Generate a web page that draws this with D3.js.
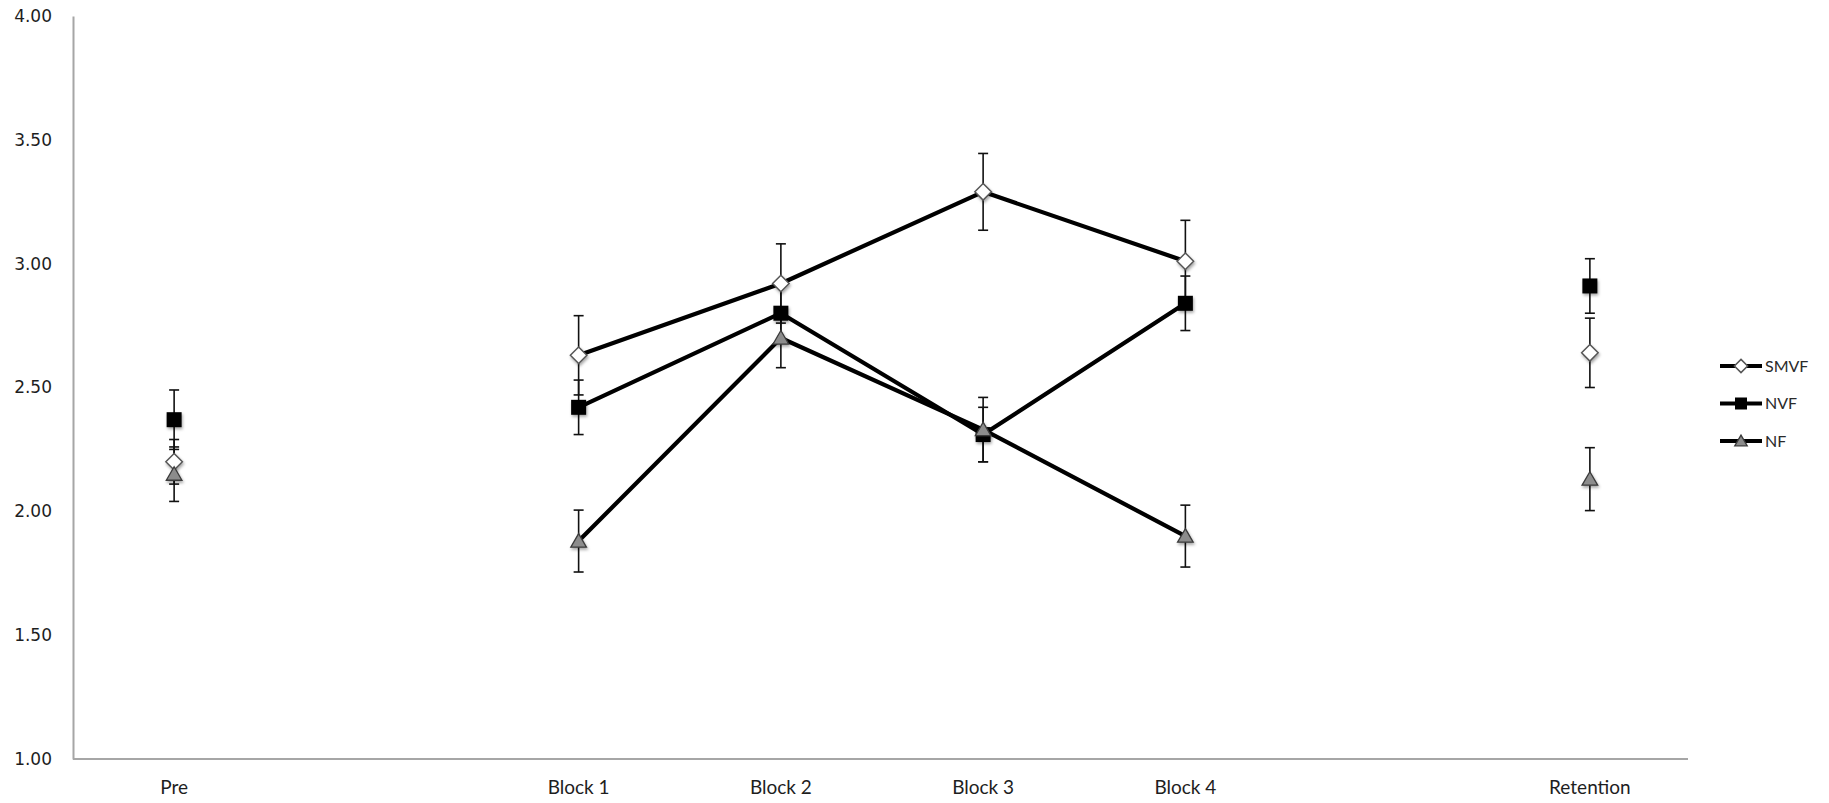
<!DOCTYPE html>
<html>
<head>
<meta charset="utf-8">
<script src="https://cdn.jsdelivr.net/npm/d3@7"></script>
<style>
  html, body { margin: 0; padding: 0; background: #fff; }
  svg { display: block; }
</style>
</head>
<body>
<svg id="chart" width="1829" height="803"></svg>
<script>
// Session labels along the x axis; two unlabelled slots separate Pre and Retention from the blocks
const slots = ["Pre", "gapA", "Block 1", "Block 2", "Block 3", "Block 4", "gapB", "Retention"];
const categories = ["Pre", "Block 1", "Block 2", "Block 3", "Block 4", "Retention"];
const yTicks = [1.0, 1.5, 2.0, 2.5, 3.0, 3.5, 4.0];

// Group means and error-bar half-widths per session
const smvfMean = [2.20, 2.63, 2.92, 3.29, 3.01, 2.64];
const smvfErr  = [0.09, 0.16, 0.16, 0.155, 0.165, 0.14];
const nvfMean  = [2.37, 2.42, 2.80, 2.31, 2.84, 2.91];
const nvfErr   = [0.12, 0.11, 0.11, 0.11, 0.11, 0.11];
const nfMean   = [2.15, 1.88, 2.70, 2.33, 1.90, 2.13];
const nfErr    = [0.11, 0.125, 0.12, 0.13, 0.125, 0.127];

// Sessions joined by a line (the four practice blocks)
const connected = ["Block 1", "Block 2", "Block 3", "Block 4"];

const series = [
  { name: "SMVF", mean: smvfMean, err: smvfErr, shape: "diamond" },
  { name: "NVF",  mean: nvfMean,  err: nvfErr,  shape: "square" },
  { name: "NF",   mean: nfMean,   err: nfErr,   shape: "triangle" }
];

const svg = d3.select("#chart");

const defs = svg.append("defs");
const shadow = defs.append("filter").attr("id", "markShadow")
  .attr("x", "-50%").attr("y", "-50%").attr("width", "200%").attr("height", "200%");
shadow.append("feDropShadow")
  .attr("dx", 1).attr("dy", 2).attr("stdDeviation", 1.6)
  .attr("flood-color", "#000").attr("flood-opacity", 0.35);

const x = d3.scaleBand().domain(slots).range([73, 1691]);
const y = d3.scaleLinear().domain([1, 4]).range([759, 16]);
const cx = c => x(c) + x.bandwidth() / 2;

// Axes
const yAxis = svg.append("g").attr("transform", "translate(73,0)")
  .call(d3.axisLeft(y).tickValues(yTicks).tickSize(0).tickPadding(21).tickFormat(d3.format(".2f")));
yAxis.select(".domain").attr("stroke", "#a6a6a6").attr("stroke-width", 2);
yAxis.selectAll("text")
  .attr("font-family", "'DejaVu Sans', Verdana, sans-serif")
  .attr("font-size", 17).attr("fill", "#1e1e1e");

const xAxis = svg.append("g").attr("transform", "translate(0,759)")
  .call(d3.axisBottom(x).tickValues(categories).tickSize(0).tickPadding(22));
xAxis.select(".domain").attr("stroke", "#a6a6a6").attr("stroke-width", 2)
  .attr("d", "M73,0H1688");
xAxis.selectAll("text")
  .attr("font-family", "Lato, 'Open Sans', sans-serif")
  .attr("font-size", 19).attr("fill", "#1e1e1e");

// Marker shapes
function marker(sel, shape, s) {
  if (shape === "diamond") {
    sel.append("path")
      .attr("d", `M0,${-s * 0.55}L${s * 0.55},0L0,${s * 0.55}L${-s * 0.55},0Z`)
      .attr("fill", "#fff").attr("stroke", "#555").attr("stroke-width", 1.5);
  } else if (shape === "square") {
    sel.append("rect")
      .attr("x", -s / 2).attr("y", -s / 2).attr("width", s).attr("height", s)
      .attr("fill", "#000");
  } else {
    const h = s * 0.9;
    sel.append("path")
      .attr("d", `M0,${-h * 0.55}L${s * 0.52},${h * 0.45}L${-s * 0.52},${h * 0.45}Z`)
      .attr("fill", "#8c8c8c").attr("stroke", "#3a3a3a").attr("stroke-width", 1.3);
  }
}

const plot = svg.append("g");

// Connecting lines for the practice blocks
const line = d3.line().x(d => cx(d.c)).y(d => y(d.v));
series.forEach(s => {
  const pts = categories.map((c, i) => ({ c, v: s.mean[i] })).filter(d => connected.includes(d.c));
  plot.append("path").datum(pts)
    .attr("d", line).attr("fill", "none")
    .attr("stroke", "#000").attr("stroke-width", 4.2).attr("stroke-linejoin", "round");
});

// Error bars
series.forEach(s => {
  const g = plot.append("g");
  categories.forEach((c, i) => {
    const xc = cx(c), top = y(s.mean[i] + s.err[i]), bot = y(s.mean[i] - s.err[i]);
    g.append("line").attr("x1", xc).attr("x2", xc).attr("y1", top).attr("y2", bot)
      .attr("stroke", "#111").attr("stroke-width", 1.6);
    [top, bot].forEach(yy => g.append("line")
      .attr("x1", xc - 5).attr("x2", xc + 5).attr("y1", yy).attr("y2", yy)
      .attr("stroke", "#111").attr("stroke-width", 1.6));
  });
});

// Markers
series.forEach(s => {
  categories.forEach((c, i) => {
    const g = plot.append("g")
      .attr("transform", `translate(${cx(c)},${y(s.mean[i])})`)
      .attr("filter", "url(#markShadow)");
    marker(g, s.shape, 15);
  });
});

// Legend
const legend = svg.append("g");
series.forEach((s, i) => {
  const ly = 366 + i * 37.5;
  const g = legend.append("g").attr("transform", `translate(0,${ly})`);
  g.append("line").attr("x1", 1720).attr("x2", 1762).attr("y1", 0).attr("y2", 0)
    .attr("stroke", "#000").attr("stroke-width", 4);
  const m = g.append("g").attr("transform", "translate(1741,0)");
  marker(m, s.shape, 12);
  g.append("text").attr("x", 1765).attr("y", 0).attr("dy", "0.35em")
    .attr("font-family", "Lato, 'Open Sans', sans-serif")
    .attr("font-size", 16).attr("fill", "#2a2a2a").text(s.name);
});
</script>
</body>
</html>
